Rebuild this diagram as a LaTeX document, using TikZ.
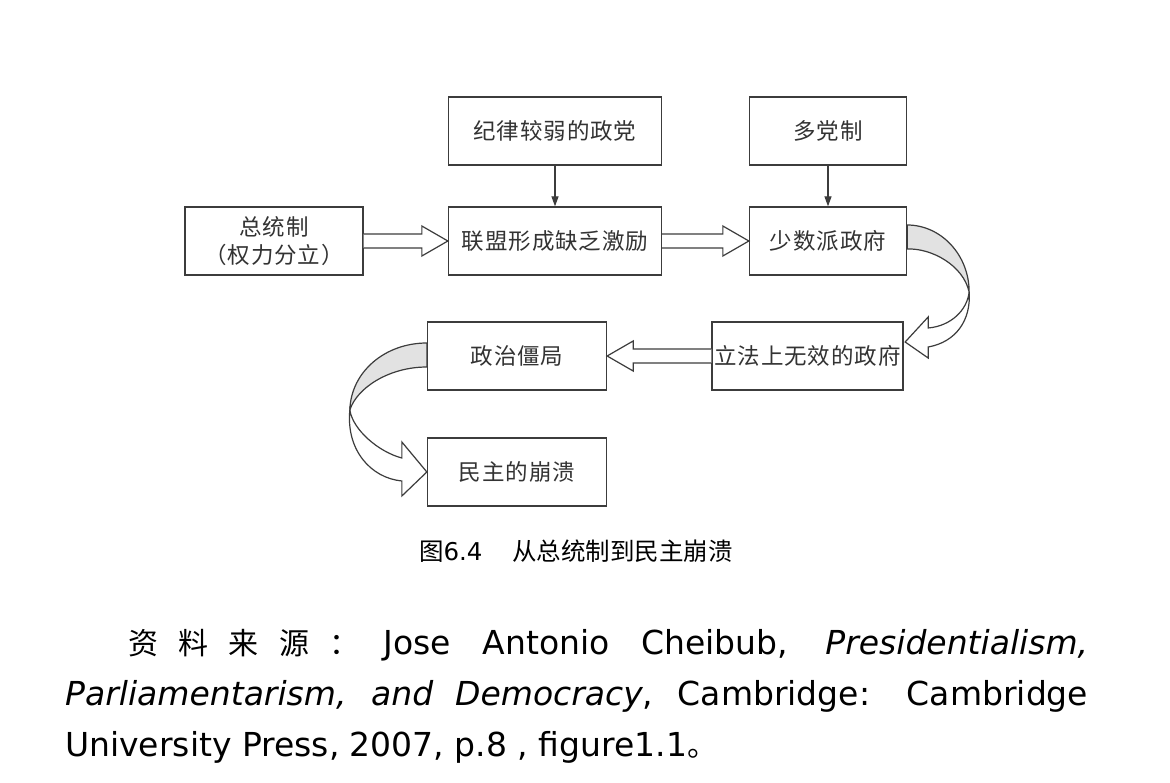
\documentclass[tikz,border=0pt]{standalone}
\usepackage{fontspec}
\setmainfont{DejaVu Sans}
\newfontfamily\cjk{Noto Sans CJK SC}
\newfontfamily\cjkbox[LetterSpace=4]{Noto Sans CJK SC}
\usetikzlibrary{arrows.meta,calc}
\definecolor{linec}{HTML}{3C3C3C}
\definecolor{txtc}{HTML}{333333}
\definecolor{ribbonc}{HTML}{E2E2E2}
\newcommand\blockarrowR[2]{%
  \draw[hollow] let \p1=(#1.east), \p2=(#2.west) in
    (\x1,\y1+7pt) -- (\x2-26pt,\y1+7pt) -- (\x2-26pt,\y1+15pt) -- (\x2,\y1)
    -- (\x2-26pt,\y1-15pt) -- (\x2-26pt,\y1-7pt) -- (\x1,\y1-7pt);}
\newcommand\blockarrowL[2]{%
  \draw[hollow] let \p1=(#1.west), \p2=(#2.east) in
    (\x1,\y1+7pt) -- (\x2+26pt,\y1+7pt) -- (\x2+26pt,\y1+15pt) -- (\x2,\y1)
    -- (\x2+26pt,\y1-15pt) -- (\x2+26pt,\y1-7pt) -- (\x1,\y1-7pt);}
\begin{document}
\begin{tikzpicture}[x=1pt,y=-1pt,
  box/.style={draw=linec, line width=1.3pt, minimum height=68pt, inner sep=0pt,
    font=\cjkbox\fontsize{22.5}{28}\selectfont, text=txtc, align=center},
  thinarrow/.style={draw=linec, line width=1.2pt, -{Triangle[length=10pt,width=7pt]}},
  hollow/.style={draw=linec, line width=1.2pt, fill=white, line join=miter},
  ribbon/.style={draw=linec, line width=1.2pt, line join=miter},
  srcline/.style={anchor=base west, inner sep=0pt, font=\fontsize{33}{40}\selectfont}
]
\useasboundingbox (0,0) rectangle (1170,783);
\fill[white] (0,0) rectangle (1170,783);

% boxes
\node[box, minimum width=213pt] (weak)  at (555,131)   {纪律较弱的政党};
\node[box, minimum width=157pt] (multi) at (828,131)   {多党制};
\node[box, minimum width=178pt] (pres)  at (274,241)   {总统制\\（权力分立）};
\node[box, minimum width=213pt] (coal)  at (555,241)   {联盟形成缺乏激励};
\node[box, minimum width=157pt] (minor) at (828,241)   {少数派政府};
\node[box, minimum width=191pt] (legis) at (807.5,356) {立法上无效的政府};
\node[box, minimum width=179pt] (dead)  at (517,356)   {政治僵局};
\node[box, minimum width=179pt] (coll)  at (517,472)   {民主的崩溃};

% thin arrows
\draw[thinarrow] (weak) -- (coal);
\draw[thinarrow] (multi) -- (minor);

% hollow block arrows
\blockarrowR{pres}{coal}
\blockarrowR{coal}{minor}
\blockarrowL{legis}{dead}

% right twisted ribbon arrow: minor -> legis
\begin{scope}[shift={(minor.east)}]
  \filldraw[ribbon, fill=ribbonc] (0,-16) .. controls (34,-16) and (62,14) .. (62,51)
     .. controls (56,24) and (24,7) .. (0,8) -- cycle;
  \filldraw[ribbon, fill=white] (62,51) .. controls (60,69) and (44,85) .. (21,87)
     -- (21,76) -- (-2,101) -- (21,117) -- (21,106)
     .. controls (49,101) and (64,79) .. (62,51) -- cycle;
\end{scope}

% left twisted ribbon arrow: dead -> coll
\begin{scope}[shift={(dead.west)}]
  \filldraw[ribbon, fill=ribbonc] (0,-13) .. controls (-42,-13) and (-76,16) .. (-77,54)
     .. controls (-70,32) and (-38,11) .. (0,11) -- cycle;
  \filldraw[ribbon, fill=white] (-77,54) .. controls (-74,74) and (-48,96) .. (-25,102)
     -- (-25,86) -- (0,116) -- (-25,140) -- (-25,125)
     .. controls (-56,122) and (-81,94) .. (-77,54) -- cycle;
\end{scope}

% caption
\node[inner sep=0pt, font=\fontsize{24.5}{30}\selectfont] (cap) at (576,551)
  {{\cjk 图}6.4\hspace{30pt}{\cjk 从总统制到民主崩溃}};

% source paragraph
\node[srcline] (src1) at (65,654) {\makebox[1023pt][s]{\hspace*{63pt}{\cjk\fontsize{30}{40}\selectfont 资 料 来 源 ：}\hspace{-8pt} Jose Antonio Cheibub, \textit{Presidentialism,}}};
\node[srcline] (src2) at (65,705) {\makebox[1023pt][s]{\textit{Parliamentarism,} \textit{and} \textit{Democracy}, Cambridge: Cambridge}};
\node[srcline] (src3) at (65,756) {University Press, 2007, p.8 , figure1.1{\cjk\fontsize{30}{40}\selectfont 。}};
\end{tikzpicture}
\end{document}
